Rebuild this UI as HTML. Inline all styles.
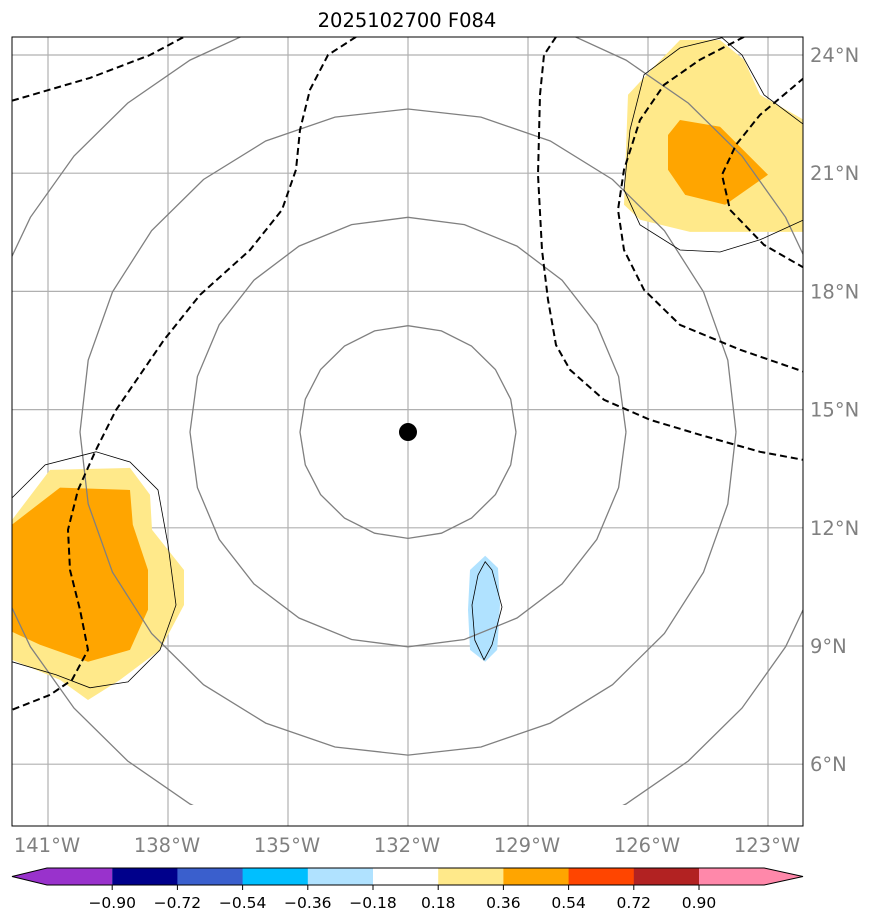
<!DOCTYPE html>
<html><head><meta charset="utf-8"><style>
html,body{margin:0;padding:0;background:#fff;}
svg{display:block;font-family:"DejaVu Sans","Liberation Sans",sans-serif;}
</style></head><body>
<svg id="chart" width="873" height="924" viewBox="0 0 873 924">
<defs><clipPath id="mapclip"><rect x="12" y="37" width="791" height="789"/></clipPath>
<clipPath id="outerclip"><rect x="12" y="37" width="791" height="768"/></clipPath></defs>
<text x="407" y="27" font-size="19.5" text-anchor="middle">2025102700 F084</text>
<g id="grid"></g>
<g id="fills" clip-path="url(#mapclip)"></g>
<g id="circles"></g>
<g id="dashes" clip-path="url(#mapclip)"></g>
<g id="thin" clip-path="url(#mapclip)"></g>
<rect x="12" y="37" width="791" height="789" fill="none" stroke="#000" stroke-width="1"/>
<g id="cbar"></g>
</svg>
<script>
const lonTicks=[-141,-138,-135,-132,-129,-126,-123];
const latTicks=[24,21,18,15,12,9,6];
const cbarLevels=[-0.90,-0.72,-0.54,-0.36,-0.18,0.18,0.36,0.54,0.72,0.90];
const cbarColors=["#9932cc","#00008b","#3a5fcd","#00bfff","#b0e2ff","#ffffff","#ffe98a","#ffa500","#ff4500","#b22222","#ff88aa"];
const center=[-132.0,14.43];
const circleRadii=[2.7,5.45,8.2];
const outerRadius=10.9;
const dashA=[[-141.9,22.84],[-139.95,23.42],[-138.45,24.0],[-137.6,24.46]];
const dashB=[[-133.3,24.46],[-134.0,24.0],[-134.45,23.12],[-134.7,22.1],[-134.8,21.09],[-135.15,20.07],[-135.95,19.05],[-137.2,17.91],[-138.1,16.77],[-138.7,15.88],[-139.3,14.99],[-139.8,13.98],[-140.25,12.96],[-140.5,11.95],[-140.45,10.93],[-140.2,9.92],[-140.0,8.9],[-140.4,8.14],[-140.95,7.76],[-141.9,7.38]];
const dashC=[[-128.3,24.46],[-128.6,24.0],[-128.7,22.99],[-128.75,20.96],[-128.65,19.05],[-128.5,17.79],[-128.3,16.64],[-127.95,16.01],[-127.1,15.25],[-125.95,14.74],[-124.7,14.36],[-123.2,13.93],[-122.1,13.72]];
const dashD=[[-123.6,24.46],[-124.7,23.88],[-125.6,23.24],[-126.2,22.35],[-126.6,21.09],[-126.75,20.07],[-126.6,19.05],[-126.1,18.04],[-125.2,17.15],[-123.7,16.52],[-122.1,15.96]];
const dashE=[[-122.1,23.42],[-123.2,22.48],[-123.8,21.72],[-124.15,20.96],[-123.95,20.07],[-123.1,19.18],[-122.1,18.6]];
const leftYellow=[[-141.9,12.2],[-140.95,13.47],[-138.95,13.52],[-138.45,12.84],[-138.4,11.95],[-137.6,10.93],[-137.6,10.04],[-138.2,8.9],[-139.2,8.14],[-140.0,7.63],[-140.7,8.14],[-141.9,8.65]];
const leftOrange=[[-141.9,12.08],[-140.7,13.02],[-138.95,12.96],[-138.88,12.08],[-138.5,10.93],[-138.5,9.92],[-138.95,8.9],[-140.0,8.6],[-141.2,9.03],[-141.9,9.36]];
const leftLine=[[-141.9,12.76],[-141.07,13.6],[-139.8,13.93],[-138.95,13.67],[-138.25,12.96],[-138.0,11.57],[-137.8,10.04],[-138.2,8.9],[-139.0,8.09],[-139.95,7.94],[-140.8,8.27],[-141.9,8.6]];
const rightYellow=[[-126.5,22.99],[-125.8,23.75],[-125.2,24.38],[-124.2,24.38],[-123.6,23.88],[-123.2,22.99],[-122.1,22.35],[-122.1,19.51],[-124.95,19.51],[-126.2,19.82],[-126.6,20.2]];
const rightOrange=[[-125.5,21.97],[-125.2,22.35],[-124.2,22.18],[-123.0,20.96],[-124.07,20.2],[-125.07,20.45],[-125.5,21.09]];
const rightLine=[[-126.45,22.1],[-126.1,23.5],[-125.2,24.18],[-124.15,24.44],[-123.65,24.0],[-123.1,22.99],[-122.1,22.23],[-122.1,19.82],[-123.2,19.31],[-124.2,19.0],[-125.2,19.05],[-126.2,19.69],[-126.6,20.58],[-126.45,22.1]];
const blueBlob=[[-130.45,10.93],[-130.07,11.29],[-129.75,10.98],[-129.7,10.04],[-129.77,8.9],[-130.07,8.6],[-130.45,8.9],[-130.5,9.92]];
const blueLine=[[-130.25,10.8],[-130.07,11.14],[-129.9,10.93],[-129.65,9.99],[-129.9,9.03],[-130.1,8.65],[-130.33,9.15],[-130.4,10.04],[-130.25,10.8]];

const X=lon=>48+(lon+141)*40;
const Y=lat=>55+(24-lat)*39.4;
const NS="http://www.w3.org/2000/svg";
function mk(tag,attrs,parent){const e=document.createElementNS(NS,tag);for(const k in attrs)e.setAttribute(k,attrs[k]);parent.appendChild(e);return e;}
const pts=a=>a.map(p=>X(p[0]).toFixed(1)+","+Y(p[1]).toFixed(1)).join(" ");

const grid=document.getElementById('grid');
lonTicks.forEach(l=>{
  const ln=mk('line',{x1:X(l),x2:X(l),y1:37,y2:826,stroke:'#b0b0b0','stroke-width':1.2},grid);
  
  
  const t=mk('text',{x:X(l)-1,y:852,'font-size':19.5,fill:'#808080','text-anchor':'middle'},grid);
  t.textContent=Math.abs(l)+"°W";
  
  
});
latTicks.forEach(l=>{
  const ln=mk('line',{x1:12,x2:803,y1:Y(l),y2:Y(l),stroke:'#b0b0b0','stroke-width':1.2},grid);
  
  
  const t=mk('text',{x:810,y:Y(l)+7,'font-size':19.5,fill:'#808080'},grid);
  t.textContent=l+"°N";
  
  
});

const fills=document.getElementById('fills');
[[leftYellow,'#ffe98a'],[leftOrange,'#ffa500'],[rightYellow,'#ffe98a'],[rightOrange,'#ffa500'],[blueBlob,'#b0e2ff']].forEach(([a,c])=>{
  const p=mk('polygon',{points:pts(a),fill:c},fills);
  
  
});

const circ=document.getElementById('circles');
function circlePts(r,n){const a=[];for(let i=0;i<=n;i++){const t=i/n*2*Math.PI;a.push([center[0]+r*Math.cos(t),center[1]+r*Math.sin(t)]);}return a;}
circleRadii.forEach((r,i)=>{
  const p=mk('polyline',{points:pts(circlePts(r,[20,24,28][i])),fill:'none',stroke:'#808080','stroke-width':1.3},circ);
  
  
});
const og=mk('g',{'clip-path':'url(#outerclip)'},circ);
const op=mk('polyline',{points:pts(circlePts(outerRadius,36)),fill:'none',stroke:'#808080','stroke-width':1.3},og);


const dot=mk('circle',{cx:X(center[0]),cy:Y(center[1]),r:9,fill:'#000'},circ);



const dg=document.getElementById('dashes');
[dashA,dashB,dashC,dashD,dashE].forEach(a=>{
  const p=mk('polyline',{points:pts(a),fill:'none',stroke:'#000','stroke-width':2,'stroke-dasharray':'7,4'},dg);
  
  
});
const tg=document.getElementById('thin');
[leftLine,rightLine,blueLine].forEach(a=>{
  const p=mk('polyline',{points:pts(a),fill:'none',stroke:'#000','stroke-width':0.8},tg);
  
  
});

const cb=document.getElementById('cbar');
const cx0=47,cw=65.2,cy=868,ch=17;
const nseg=cbarColors.length;
cbarColors.forEach((c,i)=>{
  let el;
  if(i===0) el=mk('polygon',{points:`12,${cy+ch/2} ${cx0},${cy} ${cx0+cw},${cy} ${cx0+cw},${cy+ch} ${cx0},${cy+ch}`,fill:c},cb);
  else if(i===nseg-1) el=mk('polygon',{points:`${cx0+cw*i},${cy} ${cx0+cw*(i+1)},${cy} 803,${cy+ch/2} ${cx0+cw*(i+1)},${cy+ch} ${cx0+cw*i},${cy+ch}`,fill:c},cb);
  else el=mk('rect',{x:cx0+cw*i,y:cy,width:cw+0.5,height:ch,fill:c},cb);
  
  
});
const outline=mk('polygon',{points:`12,${cy+ch/2} ${cx0},${cy} ${cx0+cw*nseg},${cy} 803,${cy+ch/2} ${cx0+cw*nseg},${cy+ch} ${cx0},${cy+ch}`,fill:'none',stroke:'#000','stroke-width':1},cb);


cbarLevels.forEach((v,i)=>{
  const x=cx0+cw*(i+1);
  const tk=mk('line',{x1:x,x2:x,y1:cy+ch,y2:cy+ch+5,stroke:'#000'},cb);
  
  
  const t=mk('text',{x:x,y:908,'font-size':15.5,'text-anchor':'middle'},cb);
  t.textContent=(v<0?'\u2212':'')+Math.abs(v).toFixed(2);
  
  
});
</script>
</body></html>
